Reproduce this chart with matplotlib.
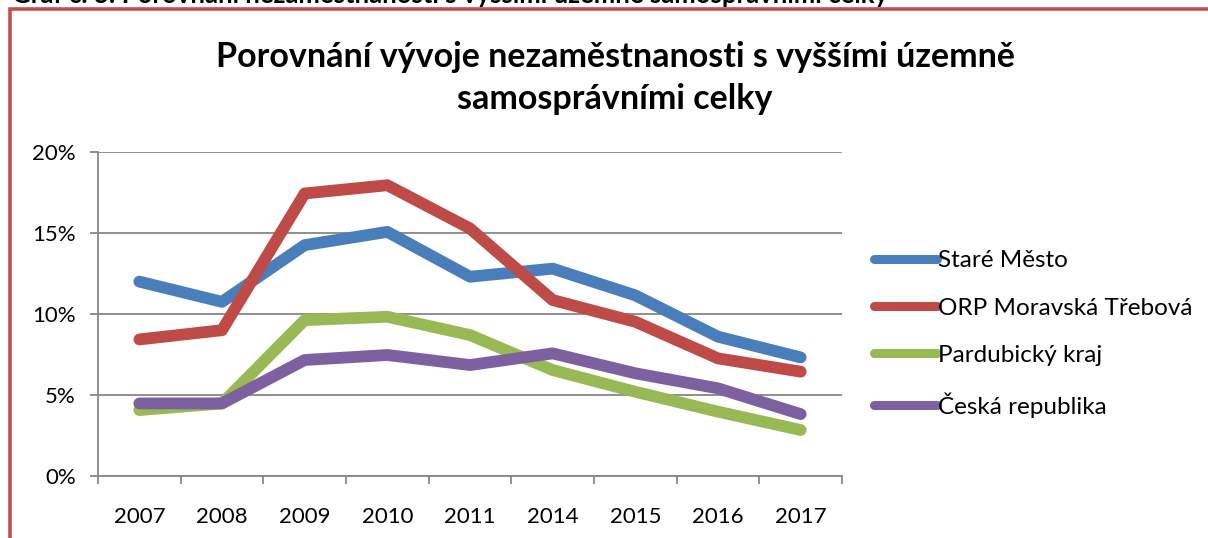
import matplotlib
matplotlib.use("Agg")
import matplotlib.pyplot as plt
from matplotlib.patches import Rectangle
from matplotlib.ticker import FixedLocator, FuncFormatter

years = ["2007", "2008", "2009", "2010", "2011", "2014", "2015", "2016", "2017"]
stare_mesto = [12.0, 10.75, 14.25, 15.07, 12.3, 12.8, 11.15, 8.6, 7.32]
orp_mt = [8.43, 9.0, 17.44, 17.95, 15.28, 10.86, 9.52, 7.26, 6.44]
pardubicky = [4.07, 4.48, 9.62, 9.83, 8.7, 6.54, 5.2, 3.97, 2.84]
cr = [4.48, 4.48, 7.16, 7.47, 6.85, 7.57, 6.34, 5.41, 3.82]
series_names = ["Staré Město", "ORP Moravská Třebová", "Pardubický kraj", "Česká republika"]
colors = ["#4A7EBB", "#BE4B48", "#98B954", "#7D60A0"]
title = "Porovnání vývoje nezaměstnanosti s vyššími územně\nsamosprávními celky"
caption = "Graf č. 3: Porovnání nezaměstnanosti s vyššími územně samosprávními celky"
yticks = [0, 5, 10, 15, 20]

plt.rcParams['font.family'] = ['Lato', 'DejaVu Sans']

W, H = 1208, 538
fig = plt.figure(figsize=(W / 100, H / 100), dpi=100)

# red frame (chart border, partially cropped)
fig.patches.append(Rectangle((9.5 / W, -0.1), 1.2, (538 - 8.7) / H + 0.1,
                             transform=fig.transFigure, fill=False,
                             edgecolor="#C0504D", linewidth=2.6, zorder=0))
# cropped caption above
fig.text(12 / W, 1 - 3 / H, caption, ha="left", va="baseline", fontsize=18.5,
         fontweight="bold", color="black")

ax = fig.add_axes([98 / W, (538 - 476) / H, (842 - 98) / W, 324 / H])
x = list(range(len(years)))
for vals, name, c in zip([stare_mesto, orp_mt, pardubicky, cr], series_names, colors):
    ax.plot(x, vals, color=c, linewidth=8.5, solid_capstyle="round",
            solid_joinstyle="round", label=name, zorder=3)

ax.set_xlim(-0.5, len(years) - 0.5)
ax.set_ylim(0, 20)
ax.set_yticks(yticks)
ax.yaxis.set_major_formatter(FuncFormatter(lambda v, p: f"{v:.0f}%"))
ax.yaxis.grid(True, color="#878787", linewidth=1.3)
ax.set_axisbelow(True)

ax.xaxis.set_major_locator(FixedLocator([i - 0.5 for i in range(len(years) + 1)]))
ax.xaxis.set_major_formatter(FuncFormatter(lambda v, p: ""))
ax.xaxis.set_minor_locator(FixedLocator(x))
ax.set_xticklabels(years, minor=True)
ax.tick_params(axis="x", which="minor", length=0, pad=22, labelsize=16)
ax.tick_params(axis="x", which="major", length=6, width=1.3, color="#878787")
ax.tick_params(axis="y", length=6, width=1.3, color="#878787", pad=10, labelsize=16)

for s in ["top", "right"]:
    ax.spines[s].set_visible(False)
for s in ["left", "bottom"]:
    ax.spines[s].set_color("#878787")
    ax.spines[s].set_linewidth(1.3)

leg = ax.legend(loc="center left", bbox_to_anchor=(874 / W, (538 - 334) / H),
                bbox_transform=fig.transFigure, frameon=False, fontsize=17.5,
                handlelength=2.6, handletextpad=0.05, labelspacing=1.08,
                borderaxespad=0, borderpad=0)
for line in leg.get_lines():
    line.set_linewidth(6.5)
    line.set_solid_capstyle("round")

fig.text(615 / W, (538 - 78) / H, title, ha="center", va="center",
         fontsize=24.5, fontweight="bold", linespacing=1.35)

fig.savefig("out.png", dpi=100, facecolor="white")
